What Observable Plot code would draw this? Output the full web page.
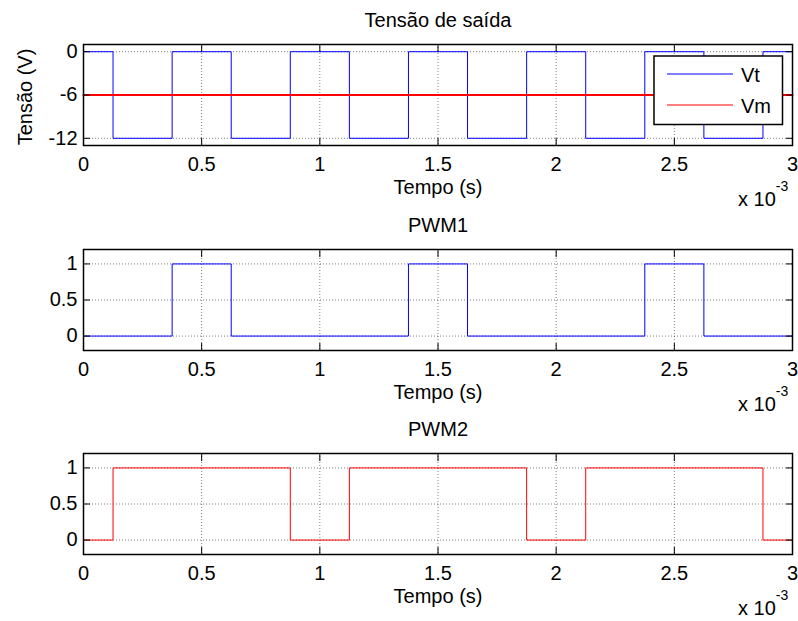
<!DOCTYPE html>
<html><head><meta charset="utf-8">
<script src="https://cdn.jsdelivr.net/npm/d3@7"></script>
<script src="https://cdn.jsdelivr.net/npm/@observablehq/plot@0.6"></script>
<style>
body{margin:0;background:#fff;}
#chart{position:relative;width:798px;height:621px;overflow:hidden;background:#fff;}
#chart svg{position:absolute;left:0;}
</style></head><body><div id="chart"></div>
<script>
// ---- data (time in ms, i.e. x 10^-3 s) ----
const xTicks = [0, 0.5, 1, 1.5, 2, 2.5, 3];
const xGrid = [0.5, 1, 1.5, 2, 2.5];

const vtTimes  = [0, 0.125, 0.375, 0.625, 0.875, 1.125, 1.375, 1.625, 1.875, 2.125, 2.375, 2.625, 2.875, 3];
const vtValues = [0, -12,   0,     -12,   0,     -12,   0,     -12,   0,     -12,   0,     -12,   0,     0];
const vmTimes  = [0, 3];
const vmValues = [-6, -6];

const pwm1Times  = [0, 0.375, 0.625, 1.375, 1.625, 2.375, 2.625, 3];
const pwm1Values = [0, 1,     0,     1,     0,     1,     0,     0];
const pwm2Times  = [0, 0.125, 0.875, 1.125, 1.875, 2.125, 2.875, 3];
const pwm2Values = [0, 1,     0,     1,     0,     1,     0,     0];

const titles = ["Tensão de saída", "PWM1", "PWM2"];
const yTicks1 = [-12, -6, 0];
const yTicks2 = [0, 0.5, 1];
const legendLabels = ["Vt", "Vm"];

const toRows = (t, v) => t.map((d, i) => ({t: d, v: v[i]}));

const FONT = "'Liberation Sans', Arial, Helvetica, sans-serif";
const W = 798, H = 207, ML = 83, MR = 6, MT = 44, MB = 62;

function panel({title, series, yDomain, yTicks, yLabel, top}) {
  const marks = [
    Plot.gridX(xGrid, {stroke: "#000", strokeOpacity: 0.5, strokeDasharray: "1,2"}),
    Plot.gridY(yTicks, {stroke: "#000", strokeOpacity: 0.5, strokeDasharray: "1,2"}),
    ...series.map(s => Plot.lineY(toRows(s.t, s.v), {x: "t", y: "v", curve: "step-after", stroke: s.color, strokeWidth: s.width})),
    Plot.frame({stroke: "#000", strokeWidth: 1.5}),
    Plot.axisX(xTicks, {anchor: "bottom", tickSize: 0, tickPadding: 11, fontSize: 20, label: null, tickFormat: d => String(d)}),
    Plot.axisX(xTicks, {anchor: "bottom", tickSize: 7, dy: -7, label: null, tickFormat: () => "", stroke: "#000"}),
    Plot.axisX(xTicks, {anchor: "top", tickSize: 7, dy: 7, label: null, tickFormat: () => "", stroke: "#000"}),
    Plot.axisY(yTicks, {anchor: "left", tickSize: 0, tickPadding: 6, fontSize: 20, label: null, tickFormat: d => String(d)}),
    Plot.axisY(yTicks, {anchor: "left", tickSize: 7, dx: 7, label: null, tickFormat: () => "", stroke: "#000"}),
    Plot.axisY(yTicks, {anchor: "right", tickSize: 7, dx: -7, label: null, tickFormat: () => "", stroke: "#000"}),
    Plot.text([title], {frameAnchor: "top", dy: -24, lineAnchor: "middle", textAnchor: "middle", fontSize: 20}),
    Plot.text(["Tempo (s)"], {frameAnchor: "bottom", dy: 42, lineAnchor: "middle", textAnchor: "middle", fontSize: 20})
  ];
  if (yLabel) marks.push(Plot.text([yLabel], {frameAnchor: "left", dx: -58, dy: 2, rotate: -90, lineAnchor: "middle", textAnchor: "middle", fontSize: 20}));
  const fig = Plot.plot({
    width: W, height: H,
    marginLeft: ML, marginRight: MR, marginTop: MT, marginBottom: MB,
    x: {domain: [0, 3]},
    y: {domain: yDomain},
    style: {fontFamily: FONT, fontSize: "20px", background: "transparent", color: "#000", overflow: "visible"},
    marks
  });
  fig.style.top = top + "px";
  // "x 10^-3" exponent annotation
  const svg = d3.select(fig);
  const ex = svg.append("text").attr("x", 738).attr("y", MT + (H - MT - MB) + 61)
    .attr("text-anchor", "start")
    .attr("font-family", FONT).attr("font-size", 20).attr("fill", "#000");
  ex.append("tspan").text("x 10");
  ex.append("tspan").attr("font-size", 14).attr("dy", -15).text("-3");
  return fig;
}

const root = document.getElementById("chart");
const p1 = panel({title: titles[0], top: 0, yDomain: [-13, 1], yTicks: yTicks1, yLabel: "Tensão (V)",
  series: [{t: vtTimes, v: vtValues, color: "#0000ff", width: 1}, {t: vmTimes, v: vmValues, color: "#ff0000", width: 2.2}]});
const p2 = panel({title: titles[1], top: 205, yDomain: [-0.2, 1.2], yTicks: yTicks2,
  series: [{t: pwm1Times, v: pwm1Values, color: "#0000ff", width: 1}]});
const p3 = panel({title: titles[2], top: 409, yDomain: [-0.2, 1.2], yTicks: yTicks2,
  series: [{t: pwm2Times, v: pwm2Values, color: "#ff0000", width: 1}]});
root.append(p1, p2, p3);

// legend for the first panel
const lg = d3.select(p1).append("g");
const lx = 654, ly = 56, lw = 128.5, lh = 68.5;
lg.append("rect").attr("x", lx).attr("y", ly).attr("width", lw).attr("height", lh)
  .attr("fill", "#fff").attr("stroke", "#000").attr("stroke-width", 1.5);
const legendColors = ["#0000ff", "#ff0000"];
legendLabels.forEach((name, i) => {
  const yy = ly + 18 + i * 31;
  lg.append("line").attr("x1", lx + 13).attr("x2", lx + 79).attr("y1", yy).attr("y2", yy)
    .attr("stroke", legendColors[i]).attr("stroke-width", 1.2);
  lg.append("text").attr("x", lx + 87).attr("y", yy + 7.5).attr("text-anchor", "start")
    .attr("font-family", FONT).attr("font-size", 20).attr("fill", "#000").text(name);
});
</script></body></html>
